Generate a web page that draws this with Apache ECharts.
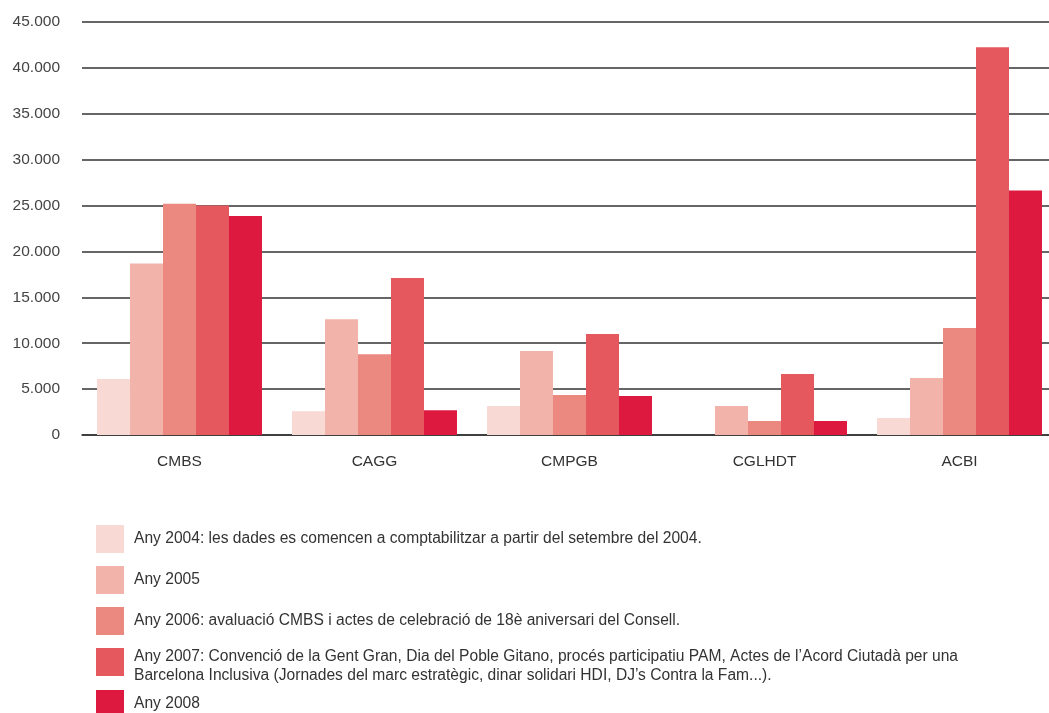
<!DOCTYPE html>
<html>
<head>
<meta charset="utf-8">
<script src="https://cdn.jsdelivr.net/npm/echarts@6/dist/echarts.min.js"></script>
<style>html,body{margin:0;padding:0;background:#fff}#c{width:1049px;height:713px}</style>
</head>
<body>
<div id="c"></div>
<script>
const categories = ['CMBS', 'CAGG', 'CMPGB', 'CGLHDT', 'ACBI'];
const seriesNames = [
  'Any 2004: les dades es comencen a comptabilitzar a partir del setembre del 2004.',
  'Any 2005',
  'Any 2006: avaluació CMBS i actes de celebració de 18è aniversari del Consell.',
  'Any 2007: Convenció de la Gent Gran, Dia del Poble Gitano, procés participatiu PAM, Actes de l\u2019Acord Ciutadà per una\nBarcelona Inclusiva (Jornades del marc estratègic, dinar solidari HDI, DJ\u2019s Contra la Fam...).',
  'Any 2008'
];
const v2004 = [6100, 2600, 3150, 0, 1850];
const v2005 = [18700, 12600, 9150, 3150, 6200];
const v2006 = [25200, 8800, 4350, 1520, 11650];
const v2007 = [25000, 17100, 11000, 6650, 42250];
const v2008 = [23850, 2700, 4250, 1520, 26650];
const yTicks = [0, 5000, 10000, 15000, 20000, 25000, 30000, 35000, 40000, 45000];

const values = [v2004, v2005, v2006, v2007, v2008];
const colors = ['#f8d9d4', '#f2b3ab', '#eb8981', '#e4585e', '#de1940'];
const legendTops = [525, 566, 607, 638.5, 690];

const fmt = v => String(v).replace(/\B(?=(\d{3})+(?!\d))/g, '.');
const legendFmt = name => {
  const lines = name.split('\n');
  if (lines.length < 2) return '{t|' + name + '}';
  return '{s| }\n' + lines.map(l => '{t|' + l + '}').join('\n');
};

const chart = echarts.init(document.getElementById('c'));
chart.setOption({
  animation: false,
  textStyle: { fontFamily: 'Liberation Sans, Arial, sans-serif' },
  grid: { left: 82, right: -8, top: 22, bottom: 278, containLabel: false, outerBoundsMode: 'none' },
  xAxis: {
    type: 'category',
    data: categories,
    axisTick: { show: false },
    axisLine: { lineStyle: { color: '#333', width: 1.5 } },
    axisLabel: { color: '#333', fontSize: 15.5, margin: 19 }
  },
  yAxis: {
    type: 'value',
    min: 0,
    max: yTicks[yTicks.length - 1],
    interval: yTicks[1] - yTicks[0],
    axisLine: { show: false },
    axisTick: { show: false },
    splitLine: { lineStyle: { color: '#333', width: 1.5 } },
    axisLabel: { color: '#444', fontSize: 15.5, margin: 22, formatter: fmt }
  },
  legend: seriesNames.map((n, i) => ({
    data: [n],
    left: 96,
    top: legendTops[i],
    orient: 'vertical',
    padding: 0,
    icon: 'rect',
    itemWidth: 28,
    itemHeight: 28,
    selectedMode: false,
    formatter: legendFmt,
    textStyle: {
      color: '#333', fontSize: 15.6, lineHeight: 19, padding: [0, 0, 0, 5],
      rich: {
        t: { color: '#333', fontSize: 15.6, lineHeight: 19 },
        s: { fontSize: 6, lineHeight: 9 }
      }
    }
  })),
  series: seriesNames.map((n, i) => ({
    name: n,
    type: 'bar',
    data: values[i],
    barGap: '0%',
    barCategoryGap: '15.4%',
    itemStyle: { color: colors[i] }
  }))
});
</script>
</body>
</html>
